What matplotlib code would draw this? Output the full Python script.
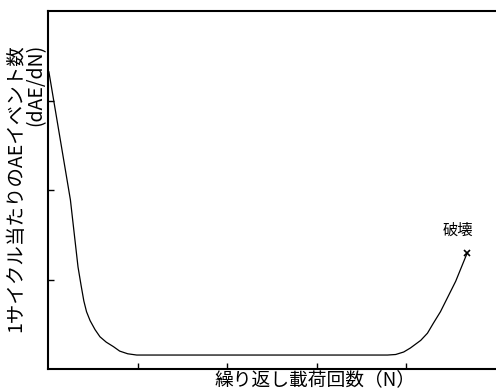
import matplotlib
matplotlib.use("Agg")
import matplotlib.pyplot as plt

plt.rcParams['font.family'] = ['Noto Sans CJK JP', 'DejaVu Sans']

# curve (x: cycles, y: AE events per cycle), arbitrary units
cycles = [0.01, 0.25, 0.335, 0.37, 0.40, 0.43, 0.47, 0.525, 0.58, 0.65, 0.73, 0.80, 0.89, 0.99,
          3.79, 3.88, 3.97, 4.045, 4.16, 4.235, 4.30, 4.38, 4.46, 4.55, 4.68]
events = [3.32, 1.89, 1.14, 0.93, 0.76, 0.64, 0.54, 0.44, 0.36, 0.30, 0.25, 0.20, 0.17, 0.156,
          0.156, 0.162, 0.19, 0.235, 0.32, 0.40, 0.51, 0.64, 0.80, 0.98, 1.30]

x_ticks = [1, 2, 3, 4]
y_ticks = [1, 2, 3]

failure_label = "破壊"
xlabel = "繰り返し載荷回数（N）"
ylabel = "1サイクル当たりのAEイベント数\n(dAE/dN)"

fig = plt.figure(figsize=(4.96, 3.91), dpi=100)
ax = fig.add_axes([48 / 496, 22 / 391, 448 / 496, 358 / 391])

ax.plot(cycles, events, color='black', lw=0.9, solid_joinstyle='round')
ax.plot(cycles[-1], events[-1], marker='x', color='black', ms=5, mew=1.2)
ax.annotate(failure_label, (cycles[-1], events[-1]), xytext=(-7, 10),
            textcoords='offset points', ha='center', va='bottom', fontsize=11)

ax.set_xlim(0, 5)
ax.set_ylim(0, 4)
ax.set_xticks(x_ticks)
ax.set_yticks(y_ticks)
ax.set_xticklabels([])
ax.set_yticklabels([])
ax.tick_params(direction='in', length=4, width=1, color='black')
ax.spines['right'].set_visible(False)
for s in ['left', 'bottom', 'top']:
    ax.spines[s].set_linewidth(1.5)

fig.text(315 / 496, 1 - 380 / 391, xlabel, ha='center', va='center', fontsize=13.5)
fig.text(26 / 496, 1 - 188 / 391, ylabel, ha='center', va='center', rotation=90,
         multialignment='right', fontsize=14, linespacing=0.95)

fig.savefig('out.png', dpi=100)
